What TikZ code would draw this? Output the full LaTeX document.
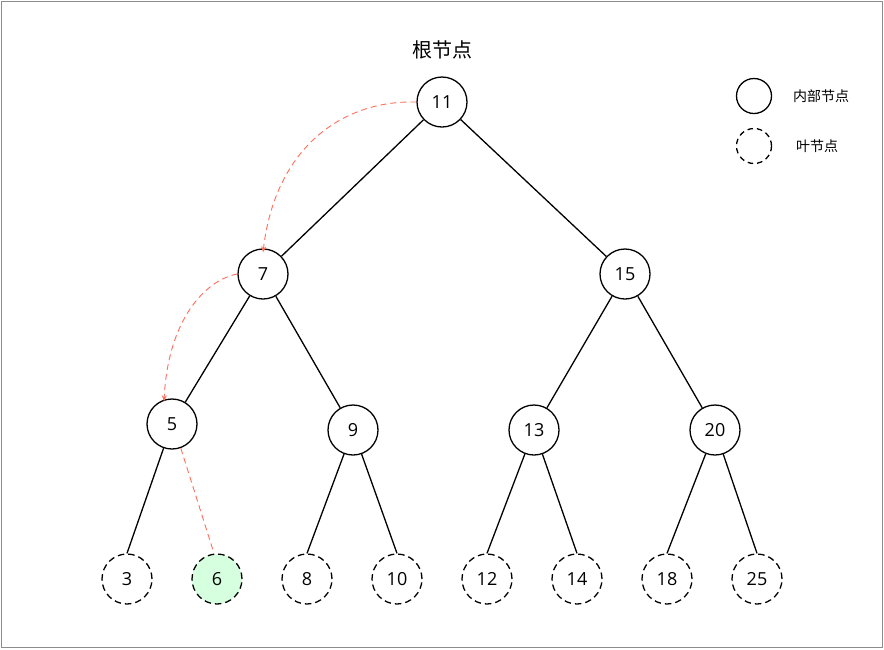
\documentclass[tikz,border=0pt]{standalone}
\usepackage{fontspec}
\setmainfont{Open Sans}
\newfontfamily\cjk{Noto Sans CJK SC}
\usetikzlibrary{arrows.meta,positioning}
\tikzset{
  inner/.style={circle, draw, line width=1.3pt, minimum size=50pt, inner sep=0pt, font=\fontsize{18}{18}\selectfont},
  leaf/.style={inner, dash pattern=on 6.5pt off 4pt},
  treeln/.style={line width=1.3pt},
  walkln/.style={dash pattern=on 6pt off 4pt, line width=0.9pt, walkcolor},
  walkarr/.style={walkln, -{Stealth[length=6pt,width=5pt]}},
  keytext/.style={font=\cjk\fontsize{14}{14}\selectfont},
}
\definecolor{framecolor}{RGB}{140,140,140}
\definecolor{walkcolor}{RGB}{255,110,90}
\definecolor{hitcolor}{RGB}{214,255,224}

\begin{document}
\begin{tikzpicture}[x=1pt, y=-1pt]
    \useasboundingbox (0,0) rectangle (884,649);
    \draw[framecolor, line width=1pt] (1.5,1.5) rectangle (882.5,647.5);
    % internal nodes
    \node[inner] (n11) at (442,102) {11};
    \node[inner] (n7)  at (263,274) {7};
    \node[inner] (n15) at (625,274) {15};
    \node[inner] (n5)  at (172,424) {5};
    \node[inner] (n9)  at (353,430) {9};
    \node[inner] (n13) at (534,430) {13};
    \node[inner] (n20) at (715,430) {20};
    % leaves
    \node[leaf] (n3)  at (127,579) {3};
    \node[leaf, fill=hitcolor] (n6) at (217,579) {6};
    \node[leaf] (n8)  at (307,579) {8};
    \node[leaf] (n10) at (397,579) {10};
    \node[leaf] (n12) at (487,579) {12};
    \node[leaf] (n14) at (577,579) {14};
    \node[leaf] (n18) at (667,579) {18};
    \node[leaf] (n25) at (757,579) {25};
    \node[font=\cjk\fontsize{20}{20}\selectfont] (root) at (442,50) {根节点};
    % edges
    \draw[treeln] (n11) -- (n7);
    \draw[treeln] (n11) -- (n15);
    \draw[treeln] (n7) -- (n5);
    \draw[treeln] (n7) -- (n9);
    \draw[treeln] (n15) -- (n13);
    \draw[treeln] (n15) -- (n20);
    \draw[treeln] (n5) -- (n3.north);
    \draw[treeln] (n9) -- (n8.north);
    \draw[treeln] (n9) -- (n10.north);
    \draw[treeln] (n13) -- (n12.north);
    \draw[treeln] (n13) -- (n14.north);
    \draw[treeln] (n20) -- (n18.north);
    \draw[treeln] (n20) -- (n25.north);
    % search path
    \draw[walkarr] (n11.west) .. controls (340,100) and (275,150) .. ([yshift=-4pt]n7.north);
    \draw[walkarr] (n7.west) .. controls (205,280) and (168,320) .. ([xshift=-8pt,yshift=-3pt]n5.north);
    \draw[walkln] (n5.-70) -- ([xshift=-3pt]n6.north);
    % legend
    \node[inner, minimum size=35pt] (keyin) at (754,96) {};
    \node[leaf, minimum size=35pt, dash pattern=on 5.5pt off 4pt] (keyleaf) at (754,146) {};
    \node[keytext] (keyintext) at (821,96) {内部节点};
    \node[keytext] (keyleaftext) at (817,146) {叶节点};
\end{tikzpicture}
\end{document}
